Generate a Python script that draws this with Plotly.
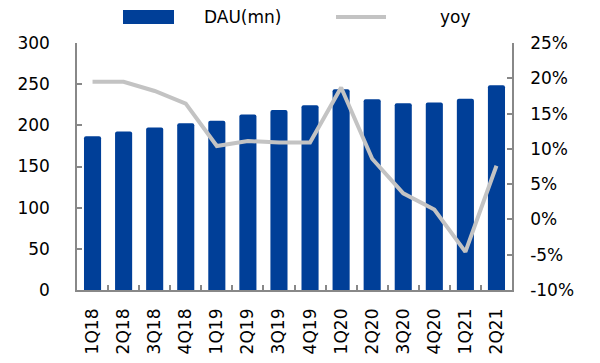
import plotly.graph_objects as go

quarters = ["1Q18", "2Q18", "3Q18", "4Q18", "1Q19", "2Q19", "3Q19", "4Q19",
            "1Q20", "2Q20", "3Q20", "4Q20", "1Q21", "2Q21"]
dau = [186.7, 192.6, 197.5, 202.4, 205.6, 213.3, 218.7, 224.5,
       243.8, 231.7, 226.8, 227.6, 232.4, 248.7]
yoy = [0.195, 0.195, 0.182, 0.164, 0.104, 0.111, 0.109, 0.109,
       0.187, 0.086, 0.037, 0.014, -0.046, 0.076]
yoy_ticks = [-0.10, -0.05, 0.0, 0.05, 0.10, 0.15, 0.20, 0.25]
yoy_tick_labels = ["-10%", "-5%", "0%", "5%", "10%", "15%", "20%", "25%"]

BLUE = "#003F98"
GREY = "#C3C3C3"
FONT = dict(family="DejaVu Sans", size=17, color="#000000")

fig = go.Figure()
fig.add_trace(go.Bar(x=quarters, y=dau, name="DAU(mn)", marker_color=BLUE,
                     marker_line_width=0, yaxis="y"))
fig.add_trace(go.Scatter(x=quarters, y=yoy, name="yoy", mode="lines",
                         line=dict(color=GREY, width=4), yaxis="y2"))

OFF = 8  # page body margin
FW, FH = 600, 363
L, T = 77 - OFF, 43 - OFF
R = FW - (512 - OFF)
B = FH - (290 - OFF)
W, H = FW - L - R, FH - T - B

def px(x):
    return (x - OFF - L) / W

def py(y):
    return (FH - B - (y - OFF)) / H

fig.add_shape(type="rect", xref="paper", yref="paper",
              x0=px(123), x1=px(174), y0=py(24), y1=py(10),
              fillcolor=BLUE, line_width=0)
fig.add_shape(type="line", xref="paper", yref="paper",
              x0=px(336), x1=px(386), y0=py(17), y1=py(17),
              line=dict(color=GREY, width=4))
fig.add_annotation(text="DAU(mn)", xref="paper", yref="paper", x=px(202), y=py(17),
                   xanchor="left", yanchor="middle", showarrow=False, font=FONT)
fig.add_annotation(text="yoy", xref="paper", yref="paper", x=px(438), y=py(17),
                   xanchor="left", yanchor="middle", showarrow=False, font=FONT)

axis_common = dict(showgrid=False, zeroline=False, showline=True, linecolor="#888888",
                   linewidth=1.5, ticks="inside", ticklen=5, tickcolor="#888888",
                   tickwidth=1.5, tickfont=FONT, automargin=False)

fig.update_layout(
    width=FW, height=FH,
    margin=dict(l=L, r=R, t=T, b=B),
    paper_bgcolor="white", plot_bgcolor="white",
    showlegend=False,
    bargap=0.45,
    barcornerradius=2,
    xaxis=dict(**axis_common, tickangle=-90, tickson="boundaries",
               ticklabelstandoff=10),
    yaxis=dict(**axis_common, range=[0, 300], dtick=50, ticklabelstandoff=22),
    yaxis2=dict(**axis_common, range=[-0.10, 0.25], tickvals=yoy_ticks,
                ticktext=yoy_tick_labels, overlaying="y", side="right",
                ticklabelstandoff=13),
)

fig.write_html("out.html")
